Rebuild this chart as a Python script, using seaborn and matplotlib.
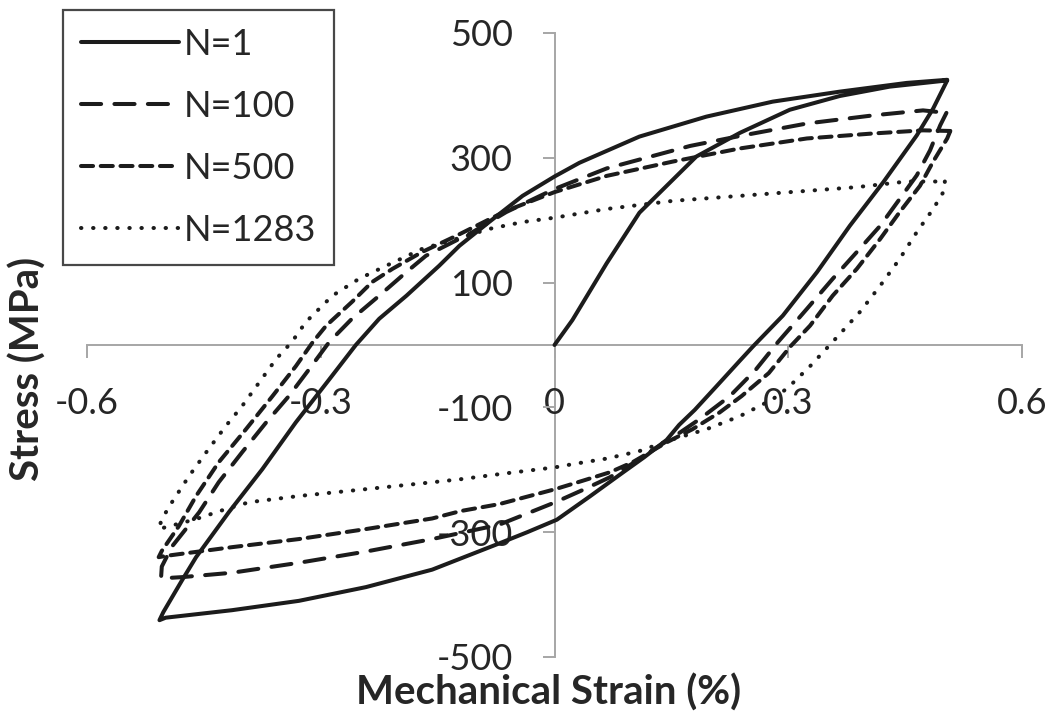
import matplotlib
matplotlib.use("Agg")
import matplotlib.pyplot as plt
import pandas as pd
import seaborn as sns

# Stress-strain hysteresis loops at selected fatigue cycles
cycle_labels = ["N=1", "N=100", "N=500", "N=1283"]

# N=1: initial loading from zero, then the first full cycle
strain_n1 = [0.000, 0.023, 0.067, 0.109, 0.139, 0.182, 0.238, 0.302, 0.366, 0.430, 0.504,
             0.486, 0.465, 0.422, 0.379, 0.337, 0.293, 0.255, 0.238, 0.208, 0.180, 0.160,
             0.144, 0.115, 0.087, 0.045, 0.003, -0.035, -0.071, -0.157, -0.242, -0.328,
             -0.414, -0.499, -0.507,
             -0.502, -0.478, -0.460, -0.418, -0.375, -0.332, -0.289, -0.255, -0.225,
             -0.190, -0.148, -0.122, -0.084, -0.041, 0.000, 0.032, 0.109, 0.195, 0.280,
             0.366, 0.452, 0.504]
stress_n1 = [0, 40, 131, 212, 249, 302, 340, 377, 399, 414, 424,
             379, 336, 261, 191, 117, 47, -2, -25, -66, -104, -128,
             -152, -180, -205, -243, -280, -300, -318, -360, -388, -410,
             -425, -437, -441,
             -428, -377, -340, -268, -199, -124, -55, 0, 42,
             79, 127, 159, 197, 239, 270, 292, 334, 366, 390,
             406, 420, 425]

strain_n100 = [0.503, 0.495, 0.482, 0.465, 0.443, 0.418, 0.388, 0.357, 0.324, 0.287,
               0.258, 0.225, 0.186, 0.152, 0.130, 0.100, 0.071, 0.035, 0.001, -0.071,
               -0.157, -0.242, -0.328, -0.414, -0.478, -0.505,
               -0.504, -0.491, -0.456, -0.431, -0.401, -0.370, -0.341, -0.315, -0.289,
               -0.260, -0.225, -0.190, -0.165, -0.105, -0.062, 0.000, 0.067, 0.174,
               0.238, 0.324, 0.409, 0.473, 0.503]
stress_n100 = [372, 352, 312, 272, 234, 191, 149, 106, 58, 5,
               -40, -82, -119, -148, -165, -190, -212, -233, -252, -288,
               -311, -331, -349, -365, -372, -374,
               -355, -323, -268, -220, -172, -124, -82, -39, 5,
               42, 79, 117, 143, 181, 213, 250, 283, 319,
               335, 355, 368, 376, 372]

strain_n500 = [0.508, 0.504, 0.486, 0.469, 0.443, 0.418, 0.388, 0.357, 0.328, 0.303,
               0.275, 0.240, 0.212, 0.177, 0.144, 0.100, 0.071, 0.035, 0.001, -0.071,
               -0.120, -0.157, -0.242, -0.328, -0.414, -0.499, -0.508,
               -0.504, -0.482, -0.460, -0.431, -0.396, -0.362, -0.332, -0.310, -0.293,
               -0.260, -0.234, -0.208, -0.170, -0.126, -0.062, 0.000, 0.067, 0.152,
               0.238, 0.324, 0.409, 0.473, 0.508]
stress_n500 = [343, 331, 294, 255, 213, 170, 122, 79, 31, -2,
               -45, -82, -108, -135, -156, -188, -204, -218, -231, -255,
               -266, -278, -295, -311, -324, -338, -340,
               -330, -290, -242, -188, -135, -82, -34, 5, 31,
               69, 101, 122, 149, 175, 215, 245, 271, 294,
               315, 331, 339, 344, 343]

strain_n1283 = [0.501, 0.499, 0.486, 0.465, 0.443, 0.418, 0.392, 0.357, 0.328, 0.300,
                0.280, 0.238, 0.195, 0.152, 0.109, 0.067, 0.023, 0.001, -0.071, -0.120,
                -0.157, -0.242, -0.328, -0.392, -0.422, -0.460, -0.508,
                -0.504, -0.491, -0.469, -0.447, -0.422, -0.401, -0.379, -0.357, -0.337,
                -0.319, -0.285, -0.251, -0.216, -0.170, -0.126, -0.084, -0.041, 0.000,
                0.067, 0.152, 0.238, 0.324, 0.388, 0.452, 0.501]
stress_n1283 = [262, 245, 218, 181, 138, 95, 53, 5, -34, -68,
                -87, -114, -135, -151, -170, -182, -191, -196, -207, -215,
                -220, -231, -242, -252, -263, -279, -295,
                -279, -252, -210, -172, -130, -98, -60, -22, 5,
                37, 79, 106, 127, 154, 170, 186, 197, 204,
                218, 231, 239, 247, 253, 262, 262]

x_ticks = [-0.6, -0.3, 0, 0.3, 0.6]
x_tick_labels = ["-0.6", "-0.3", "0", "0.3", "0.6"]
y_ticks = [-500, -300, -100, 100, 300, 500]
y_tick_labels = ["-500", "-300", "-100", "100", "300", "500"]

strains = [strain_n1, strain_n100, strain_n500, strain_n1283]
stresses = [stress_n1, stress_n100, stress_n500, stress_n1283]

frames = []
for label, xs, ys in zip(cycle_labels, strains, stresses):
    frames.append(pd.DataFrame({"strain": xs, "stress": ys, "cycle": label,
                                "step": range(len(xs))}))
df = pd.concat(frames, ignore_index=True)

sns.set_theme(style="white")
plt.rcParams["font.family"] = ["Lato", "DejaVu Sans"]

W, H = 1055, 724
fig = plt.figure(figsize=(W / 100, H / 100), dpi=100)
ax = fig.add_axes([87 / W, 1 - 657 / H, (1022 - 87) / W, (657 - 33) / H])

ink = "#1c1c1c"
axis_grey = "#a6a6a6"
text_col = "#262626"
line_w = 2.9

line_styles = {
    "N=1": "-",
    "N=100": (0, (5.0, 3.3)),
    "N=500": (0, (3.0, 1.9)),
    "N=1283": (0, (0.1, 2.9)),
}

for label in cycle_labels:
    sub = df[df["cycle"] == label].sort_values("step")
    sns.lineplot(data=sub, x="strain", y="stress", sort=False, estimator=None,
                 color=ink, linewidth=line_w, linestyle=line_styles[label],
                 label=label, legend=False, ax=ax)

for ln in ax.get_lines():
    ln.set_dash_capstyle("round")
    ln.set_solid_capstyle("round")
    ln.set_solid_joinstyle("round")
    ln.set_dash_joinstyle("round")

ax.set_xlim(-0.6, 0.6)
ax.set_ylim(-500, 500)
ax.set_xlabel("")
ax.set_ylabel("")

for side in ("top", "right"):
    ax.spines[side].set_visible(False)
for side in ("left", "bottom"):
    ax.spines[side].set_position(("data", 0))
    ax.spines[side].set_color(axis_grey)
    ax.spines[side].set_linewidth(1.4)
    ax.spines[side].set_zorder(0.5)

ax.set_xticks(x_ticks)
ax.set_xticklabels(x_tick_labels)
ax.set_yticks(y_ticks)
ax.set_yticklabels(y_tick_labels)
ax.tick_params(axis="x", bottom=True, direction="out", length=9, width=1.4,
               color=axis_grey, pad=21, labelsize=26, labelcolor=text_col)
ax.tick_params(axis="y", left=True, direction="out", length=9, width=1.4,
               color=axis_grey, pad=21, labelsize=26, labelcolor=text_col)

leg = ax.legend(loc="upper left", bbox_to_anchor=(63 / W, 1 - 10 / H),
                bbox_transform=fig.transFigure, borderaxespad=0,
                frameon=True, fancybox=False, fontsize=26,
                handlelength=2.7, handletextpad=0.15, labelspacing=0.8,
                borderpad=0.5)
leg.get_frame().set_edgecolor("#1a1a1a")
leg.get_frame().set_linewidth(1.6)
for t in leg.get_texts():
    t.set_color(text_col)

fig.text(549 / W, 1 - 693 / H, "Mechanical Strain (%)", ha="center", va="center",
         fontsize=29, fontweight="bold", color=text_col)
fig.text(28 / W, 1 - 369 / H, "Stress (MPa)", ha="center", va="center",
         rotation=90, fontsize=29, fontweight="bold", color=text_col)

fig.savefig("out.png", dpi=100)
